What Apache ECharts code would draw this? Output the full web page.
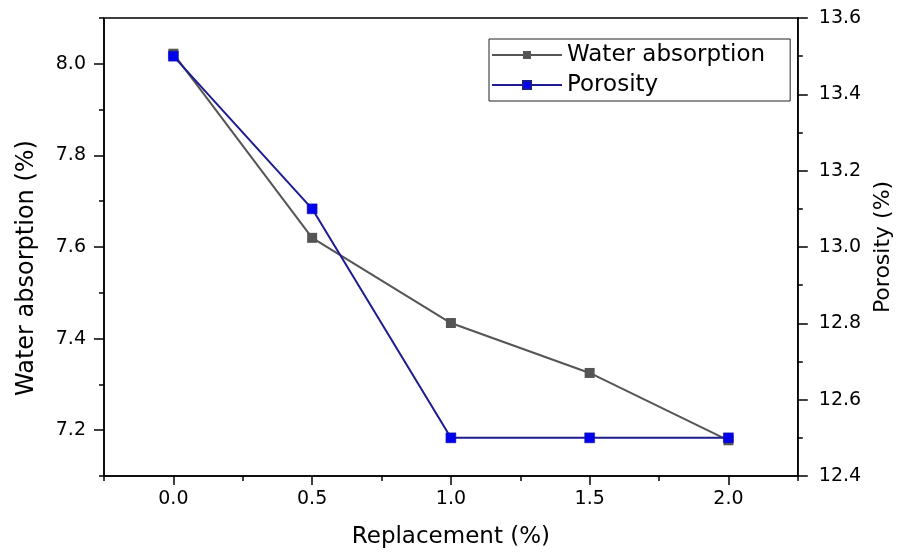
<!DOCTYPE html>
<html>
<head>
<meta charset="utf-8">
<script src="https://cdn.jsdelivr.net/npm/echarts@6/dist/echarts.min.js"></script>
<style>
html,body{margin:0;padding:0;background:#fff;}
#chart{width:902px;height:554px;}
</style>
</head>
<body>
<div id="chart"></div>
<script>
// ---- data ----
const replacement = [0.0, 0.5, 1.0, 1.5, 2.0];
const waterAbsorption = [8.022, 7.62, 7.434, 7.325, 7.178];
const porosity = [13.5, 13.1, 12.5, 12.5, 12.5];
const xMajorTicks = [0.0, 0.5, 1.0, 1.5, 2.0];
const xMinorTicks = [-0.25, 0.25, 0.75, 1.25, 1.75, 2.25];
const leftMajorTicks = [7.2, 7.4, 7.6, 7.8, 8.0];
const leftMinorTicks = [7.1, 7.3, 7.5, 7.7, 7.9, 8.1];
const seriesNames = ['Water absorption', 'Porosity'];
const xTitle = 'Replacement (%)';
const leftTitle = 'Water absorption (%)';
const rightTitle = 'Porosity (%)';

const FONT = 'DejaVu Sans';
const black = '#000';
const lineW = 1.5;

const chart = echarts.init(document.getElementById('chart'));
const fmt1 = v => Number(v).toFixed(1);

chart.setOption({
  backgroundColor: '#fff',
  animation: false,
  textStyle: { fontFamily: FONT, color: black },
  grid: { left: 104, right: 103, top: 18, bottom: 78, show: true, borderColor: black, borderWidth: lineW, containLabel: false },
  graphic: [
    {
      type: 'text', x: 27, y: 268, rotation: Math.PI / 2,
      style: { text: leftTitle, fontFamily: FONT, fontSize: 24, fill: black, align: 'center', verticalAlign: 'middle' }
    }
  ],
  legend: {
    orient: 'vertical',
    left: 489, top: 39,
    data: seriesNames,
    itemWidth: 70, itemHeight: 10, itemGap: 4,
    padding: [3, 25, 3, 2],
    borderColor: '#222', borderWidth: 1,
    textStyle: { fontFamily: FONT, fontSize: 23, color: black, lineHeight: 26 }
  },
  xAxis: [
    {
      type: 'value', min: -0.25, max: 2.25, interval: 0.25, position: 'bottom',
      name: xTitle, nameLocation: 'middle', nameGap: 50,
      nameTextStyle: { fontFamily: FONT, fontSize: 23, color: black },
      axisLine: { show: true, onZero: false, lineStyle: { color: black, width: lineW } },
      axisTick: { show: true, customValues: xMajorTicks, length: 9, lineStyle: { color: black, width: lineW } },
      axisLabel: { customValues: xMajorTicks, formatter: fmt1, fontFamily: FONT, fontSize: 19, color: black, margin: 14 },
      splitLine: { show: false }
    },
    {
      type: 'value', min: -0.25, max: 2.25, position: 'bottom',
      axisLine: { show: false, onZero: false },
      axisTick: { show: true, customValues: xMinorTicks, length: 5, lineStyle: { color: black, width: lineW } },
      axisLabel: { show: false },
      splitLine: { show: false }
    }
  ],
  yAxis: [
    {
      type: 'value', min: 7.1, max: 8.1, interval: 0.1, position: 'left',
      axisLine: { show: true, onZero: false, lineStyle: { color: black, width: lineW } },
      axisTick: { show: true, customValues: leftMajorTicks, length: 10, lineStyle: { color: black, width: lineW } },
      axisLabel: { customValues: leftMajorTicks, formatter: fmt1, fontFamily: FONT, fontSize: 19, color: black, margin: 18 },
      splitLine: { show: false }
    },
    {
      type: 'value', min: 12.4, max: 13.6, interval: 0.2, position: 'right',
      name: rightTitle, nameLocation: 'middle', nameGap: 74,
      nameTextStyle: { fontFamily: FONT, fontSize: 22, color: black },
      axisLine: { show: true, onZero: false, lineStyle: { color: black, width: lineW } },
      axisTick: { show: true, length: 10, lineStyle: { color: black, width: lineW } },
      minorTick: { show: true, splitNumber: 2, length: 5, lineStyle: { color: black, width: lineW } },
      axisLabel: { formatter: fmt1, fontFamily: FONT, fontSize: 19, color: black, margin: 21 },
      splitLine: { show: false }
    },
    {
      type: 'value', min: 7.1, max: 8.1, position: 'left',
      axisLine: { show: false, onZero: false },
      axisTick: { show: true, customValues: leftMinorTicks, length: 5, lineStyle: { color: black, width: lineW } },
      axisLabel: { show: false },
      splitLine: { show: false }
    }
  ],
  series: [
    {
      name: seriesNames[0], type: 'line', xAxisIndex: 0, yAxisIndex: 0,
      data: replacement.map((x, i) => [x, waterAbsorption[i]]),
      symbol: 'rect', symbolSize: 10,
      lineStyle: { color: '#555555', width: 2 },
      itemStyle: { color: '#555555', borderWidth: 0 },
      z: 2
    },
    {
      name: seriesNames[1], type: 'line', xAxisIndex: 0, yAxisIndex: 1,
      data: replacement.map((x, i) => [x, porosity[i]]),
      symbol: 'rect', symbolSize: 10,
      lineStyle: { color: '#1c1c8e', width: 2 },
      itemStyle: { color: '#0000ee', borderColor: '#1c1c8e', borderWidth: 0.5 },
      z: 3
    }
  ]
});
</script>
</body>
</html>
